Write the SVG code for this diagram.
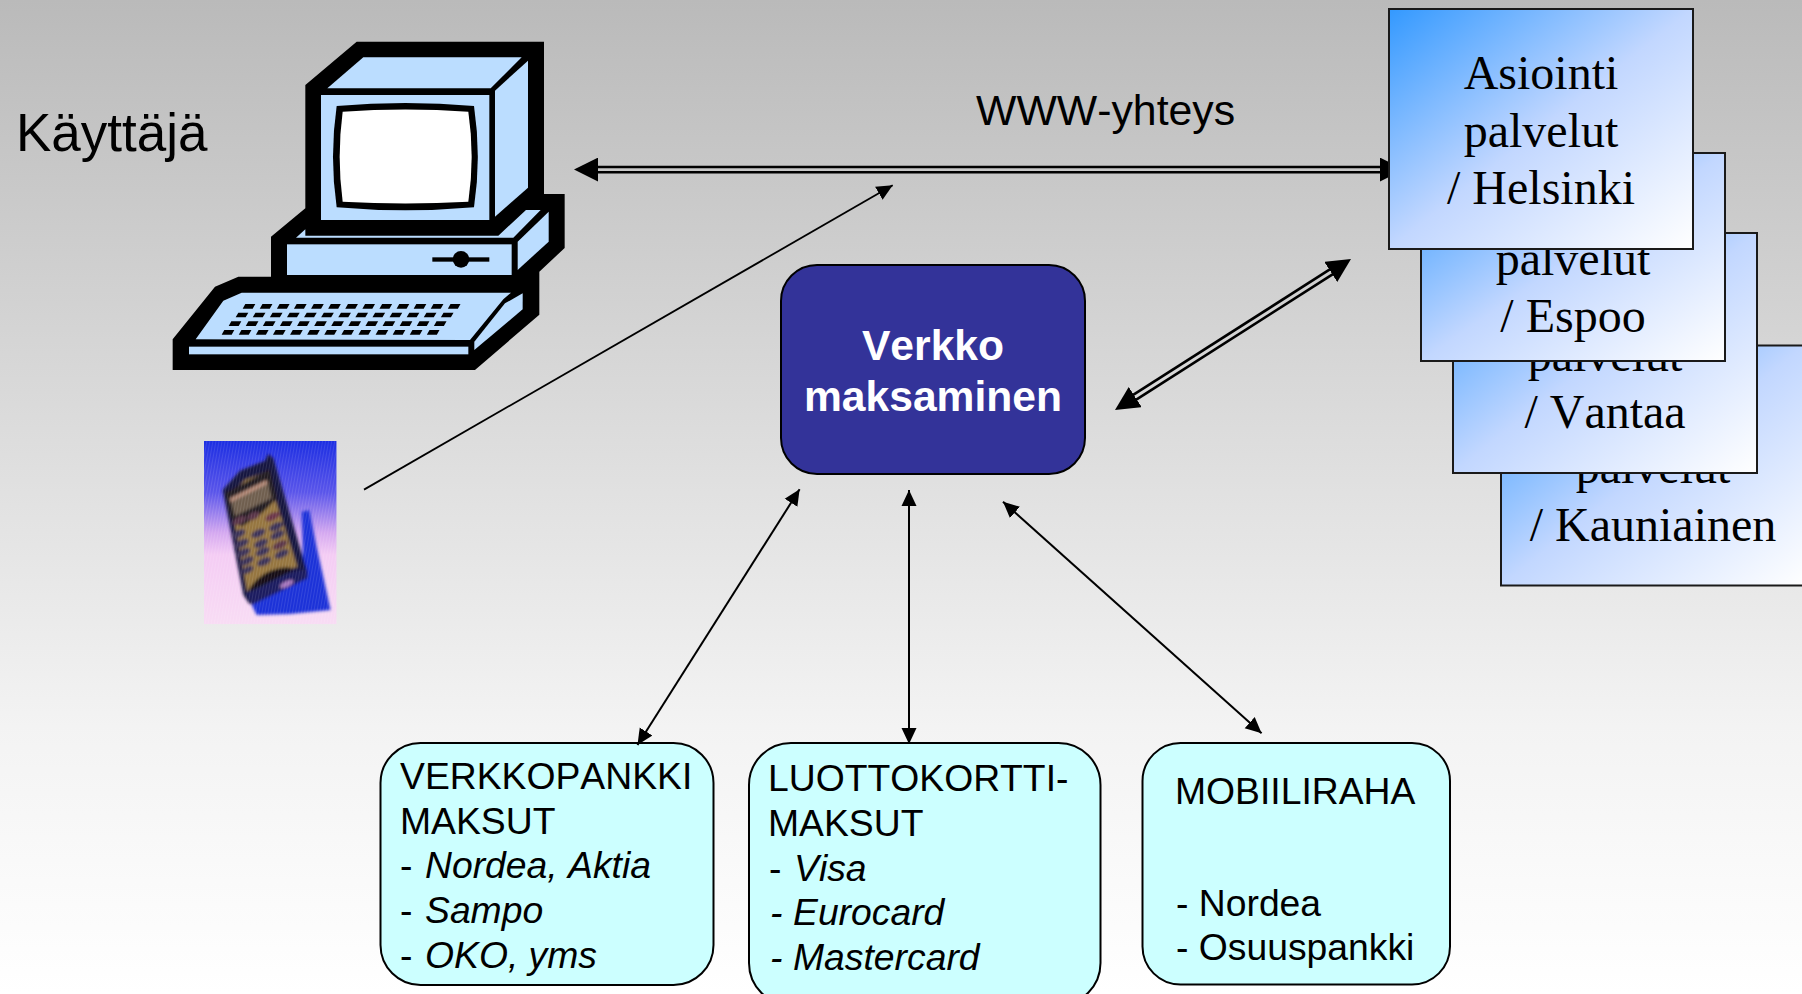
<svg xmlns="http://www.w3.org/2000/svg" xmlns:xlink="http://www.w3.org/1999/xlink" width="1802" height="994" viewBox="0 0 1802 994">
<style>
text{font-kerning:none}
.sans{font-family:"Liberation Sans",Arial,sans-serif;fill:#000}
.serif{font-family:"Liberation Serif","Times New Roman",serif;font-size:48px;fill:#000;text-anchor:middle}
.box{font-size:37.3px}
.it{font-style:italic}
.head{font-size:42.6px;font-weight:bold;fill:#fff;text-anchor:middle}
.cy{fill:#CCFFFF;stroke:#000;stroke-width:2}
.svc{fill:url(#svc);stroke:#1a1a1a;stroke-width:2}
.th{stroke:#000;stroke-width:2;fill:none;marker-start:url(#sh);marker-end:url(#sh)}
.db{stroke:#000;stroke-width:2.6;fill:none}
.lb{fill:#BBDDFF}
</style>
<defs>
<linearGradient id="bg" x1="0" y1="0" x2="0" y2="1"><stop offset="0" stop-color="#bababa"/><stop offset=".47" stop-color="#dfdfdf"/><stop offset=".73" stop-color="#f3f3f3"/><stop offset="1" stop-color="#ffffff"/></linearGradient>
<linearGradient id="svc" x1="0" y1="0" x2="1" y2="1"><stop offset="0" stop-color="#3399FF"/><stop offset=".5" stop-color="#C2D7FF"/><stop offset="1" stop-color="#ffffff"/></linearGradient>
<linearGradient id="ph" x1="0" y1="0" x2="0" y2="1"><stop offset="0" stop-color="#1c2ee2"/><stop offset=".28" stop-color="#5a55ea"/><stop offset=".5" stop-color="#d4a8f0"/><stop offset=".62" stop-color="#f4ccf4"/><stop offset="1" stop-color="#f8dcf4"/></linearGradient>
<pattern id="stripes" width="9" height="30" patternUnits="userSpaceOnUse" patternTransform="rotate(10)"><rect width="3" height="30" fill="#ffffff" fill-opacity=".1"/></pattern>
<filter id="blur" x="-5%" y="-5%" width="110%" height="110%"><feGaussianBlur stdDeviation="5"/></filter>
<clipPath id="phclip"><rect x="42" y="33" width="398" height="550"/></clipPath>
<marker id="sh" viewBox="0 0 16 16" refX="16" refY="8" markerWidth="16" markerHeight="16" markerUnits="userSpaceOnUse" orient="auto-start-reverse"><path d="M0,0.5 L16,8 L0,15.5 Z" fill="#000"/></marker>
<marker id="se" viewBox="0 0 16 16" refX="16" refY="8" markerWidth="16" markerHeight="16" markerUnits="userSpaceOnUse" orient="auto"><path d="M0,0.5 L16,8 L0,15.5 Z" fill="#000"/></marker>
<marker id="dh" viewBox="0 0 24 24" refX="24" refY="12" markerWidth="24" markerHeight="24" markerUnits="userSpaceOnUse" orient="auto-start-reverse"><path d="M0,0 L24,12 L0,24 Z" fill="#000"/></marker>
<polygon id="key" points="8,0 38,0 30,14 0,14" fill="#000"/>
<g id="keyrow">
<use xlink:href="#key" x="0"/><use xlink:href="#key" x="51.3"/><use xlink:href="#key" x="102.6"/><use xlink:href="#key" x="153.9"/><use xlink:href="#key" x="205.2"/><use xlink:href="#key" x="256.5"/><use xlink:href="#key" x="307.8"/><use xlink:href="#key" x="359.1"/><use xlink:href="#key" x="410.4"/><use xlink:href="#key" x="461.7"/><use xlink:href="#key" x="513"/><use xlink:href="#key" x="564.3"/><use xlink:href="#key" x="615.6"/>
</g>
</defs>
<rect id="background" width="1802" height="994" fill="url(#bg)"/>

<g id="label-kayttaja"><text class="sans" x="16" y="151" font-size="53">Käyttäjä</text></g>
<g id="label-www"><text class="sans" x="976" y="125" font-size="42.8">WWW-yhteys</text></g>

<g id="computer" transform="translate(160,20) scale(.33333)">
<polygon fill="#000" points="590,65 1152,65 1152,522 1214,522 1214,684 1138,755 1138,884 945,1050 38,1050 38,958 165,800 235,770 333,770 333,650 436,565 436,195"/>
<polygon class="lb" points="610,112 1085,112 992,205 502,205"/>
<polygon class="lb" points="1104,122 1104,503 1005,590 1005,212"/>
<rect class="lb" x="483" y="225" width="505" height="375"/>
<path fill="#000" d="M530,258 Q736,240 942,258 Q965,410 942,562 Q736,580 530,562 Q508,410 530,258 Z"/>
<path fill="#fff" d="M548,275 Q736,262 925,275 Q945,410 925,545 Q736,556 548,545 Q530,410 548,275 Z"/>
<polygon class="lb" points="408,653 436,628 436,647 1015,647 1098,570 1142,570 1060,653"/>
<polygon class="lb" points="1166,575 1166,665 1073,750 1073,665"/>
<rect class="lb" x="381" y="673" width="674" height="92"/>
<rect x="817" y="712" width="171" height="13" fill="#000"/>
<circle cx="903" cy="718" r="25" fill="#000"/>
<polygon class="lb" points="190,842 245,818 1053,818 1030,838 930,960 107,958"/>
<polygon class="lb" points="1088,820 1088,868 943,990 943,965 1035,850"/>
<rect class="lb" x="87" y="980" width="838" height="23"/>
<use xlink:href="#keyrow" x="248" y="852"/>
<use xlink:href="#keyrow" x="227" y="878"/>
<use xlink:href="#keyrow" x="206" y="904"/>
<use xlink:href="#keyrow" x="185" y="930"/>
</g>

<g id="phone" transform="translate(190,430) scale(.33333)" clip-path="url(#phclip)">
<rect x="42" y="33" width="398" height="550" fill="url(#ph)"/>
<g filter="url(#blur)">
<polygon fill="#1f30d8" points="335,245 358,240 380,350 422,540 300,552 200,555 185,525 340,430"/>
<polygon fill="#17123f" points="98,180 150,122 225,92 235,72 250,85 352,425 352,445 178,522 160,495"/>
<polygon fill="#967640" points="118,195 165,150 228,125 322,410 285,420 205,445 172,485"/>
<polygon fill="#231a22" points="105,190 238,118 262,205 215,250 155,290 122,265"/>
<polygon fill="#6f5f50" points="122,212 232,155 245,205 135,258"/>
<polygon fill="#b58a78" points="120,205 230,150 232,162 122,217"/>
<g fill="#3a3058">
<ellipse cx="148" cy="272" rx="22" ry="11" transform="rotate(-25 148 272)" fill="#5a3448"/>
<ellipse cx="190" cy="258" rx="20" ry="11" transform="rotate(-25 190 258)" fill="#5a3448"/>
<ellipse cx="248" cy="260" rx="24" ry="11" transform="rotate(-25 248 260)" fill="#6a3448"/>
<ellipse cx="145" cy="312" rx="23" ry="11" transform="rotate(-25 145 312)"/>
<ellipse cx="205" cy="310" rx="23" ry="11" transform="rotate(-25 205 310)"/>
<ellipse cx="258" cy="290" rx="23" ry="11" transform="rotate(-25 258 290)"/>
<ellipse cx="155" cy="340" rx="23" ry="11" transform="rotate(-25 155 340)"/>
<ellipse cx="213" cy="340" rx="23" ry="11" transform="rotate(-25 213 340)"/>
<ellipse cx="262" cy="315" rx="23" ry="11" transform="rotate(-25 262 315)"/>
<ellipse cx="160" cy="368" rx="23" ry="11" transform="rotate(-25 160 368)"/>
<ellipse cx="218" cy="365" rx="23" ry="11" transform="rotate(-25 218 365)"/>
<ellipse cx="270" cy="345" rx="24" ry="11" transform="rotate(-25 270 345)" fill="#5a3448"/>
<ellipse cx="170" cy="393" rx="23" ry="11" transform="rotate(-25 170 393)"/>
<ellipse cx="222" cy="395" rx="23" ry="11" transform="rotate(-25 222 395)"/>
<ellipse cx="275" cy="372" rx="23" ry="11" transform="rotate(-25 275 372)"/>
<ellipse cx="172" cy="420" rx="20" ry="10" transform="rotate(-25 172 420)"/>
</g>
<path fill="#120e14" d="M178,475 Q222,412 300,412 L312,440 L190,495 Z"/>
<polygon fill="#1c1c60" points="170,490 295,428 345,418 352,445 185,525"/>
<ellipse cx="290" cy="462" rx="22" ry="8" transform="rotate(-25 290 462)" fill="#a878c0"/>
</g>
<rect x="42" y="33" width="398" height="550" fill="url(#stripes)"/>
</g>

<g id="box-verkkopankki">
<rect class="cy" x="380.5" y="743" width="333" height="242" rx="40" ry="40"/>
<text class="sans box" x="400" y="789">VERKKOPANKKI</text>
<text class="sans box" x="400" y="834">MAKSUT</text>
<text class="sans box" y="878"><tspan x="400">-</tspan><tspan x="425" class="it">Nordea, Aktia</tspan></text>
<text class="sans box" y="922.5"><tspan x="400">-</tspan><tspan x="425" class="it">Sampo</tspan></text>
<text class="sans box" y="967.5"><tspan x="400">-</tspan><tspan x="425" class="it">OKO, yms</tspan></text>
</g>
<g id="box-luottokortti">
<rect class="cy" x="749" y="743" width="351.5" height="262" rx="42" ry="42"/>
<text class="sans box" x="768" y="790.5">LUOTTOKORTTI-</text>
<text class="sans box" x="768" y="835.5">MAKSUT</text>
<text class="sans box" y="880.5"><tspan x="769">-</tspan><tspan x="794" class="it">Visa</tspan></text>
<text class="sans box it" y="924.5"><tspan x="770">-</tspan><tspan x="793">Eurocard</tspan></text>
<text class="sans box it" y="969.5"><tspan x="770">-</tspan><tspan x="793">Mastercard</tspan></text>
</g>
<g id="box-mobiiliraha">
<rect class="cy" x="1142.5" y="743" width="307.5" height="241.5" rx="38" ry="38"/>
<text class="sans box" x="1175" y="803.5">MOBIILIRAHA</text>
<text class="sans box" x="1176" y="916">- Nordea</text>
<text class="sans box" x="1176" y="960">- Osuuspankki</text>
</g>

<g id="connectors">
<line x1="597" y1="167" x2="1385" y2="167" class="db" stroke-width="3"/>
<line x1="597" y1="172.3" x2="1385" y2="172.3" class="db"/>
<line x1="574" y1="169.6" x2="1404" y2="169.6" stroke="none" fill="none" marker-start="url(#dh)" marker-end="url(#dh)"/>
<line x1="1132" y1="395.7" x2="1331" y2="268.7" class="db"/>
<line x1="1135.1" y1="400.3" x2="1334.1" y2="273.3" class="db"/>
<line x1="1115" y1="410" x2="1351" y2="259" stroke="none" fill="none" marker-start="url(#dh)" marker-end="url(#dh)"/>
<line x1="364" y1="489.6" x2="892.7" y2="185.3" stroke="#000" stroke-width="1.8" fill="none" marker-end="url(#se)"/>
<line class="th" x1="637.5" y1="745" x2="799.6" y2="489.3"/>
<line class="th" x1="909" y1="744" x2="909" y2="490"/>
<line class="th" x1="1003" y1="501.7" x2="1261.6" y2="733.3"/>
</g>

<g id="node-verkkomaksaminen">
<rect x="781" y="265" width="304" height="209" rx="36" ry="36" fill="#333399" stroke="#000" stroke-width="2"/>
<text class="sans head" x="933" y="360">Verkko</text>
<text class="sans head" x="933" y="411">maksaminen</text>
</g>

<g id="service-kauniainen">
<rect class="svc" x="1501" y="345.5" width="304" height="240"/>
<text class="serif" x="1653" y="483">palvelut</text>
<text class="serif" x="1653" y="541">/ Kauniainen</text>
</g>
<g id="service-vantaa">
<rect class="svc" x="1453" y="233" width="304" height="240"/>
<text class="serif" x="1605" y="370.5">palvelut</text>
<text class="serif" x="1605" y="428">/ Vantaa</text>
</g>
<g id="service-espoo">
<rect class="svc" x="1421" y="153" width="304" height="208"/>
<text class="serif" x="1573" y="274.5">palvelut</text>
<text class="serif" x="1573" y="332">/ Espoo</text>
</g>
<g id="service-helsinki">
<rect class="svc" x="1389" y="9" width="304" height="240"/>
<text class="serif" x="1541" y="89">Asiointi</text>
<text class="serif" x="1541" y="146.5">palvelut</text>
<text class="serif" x="1541" y="204">/ Helsinki</text>
</g>
</svg>
